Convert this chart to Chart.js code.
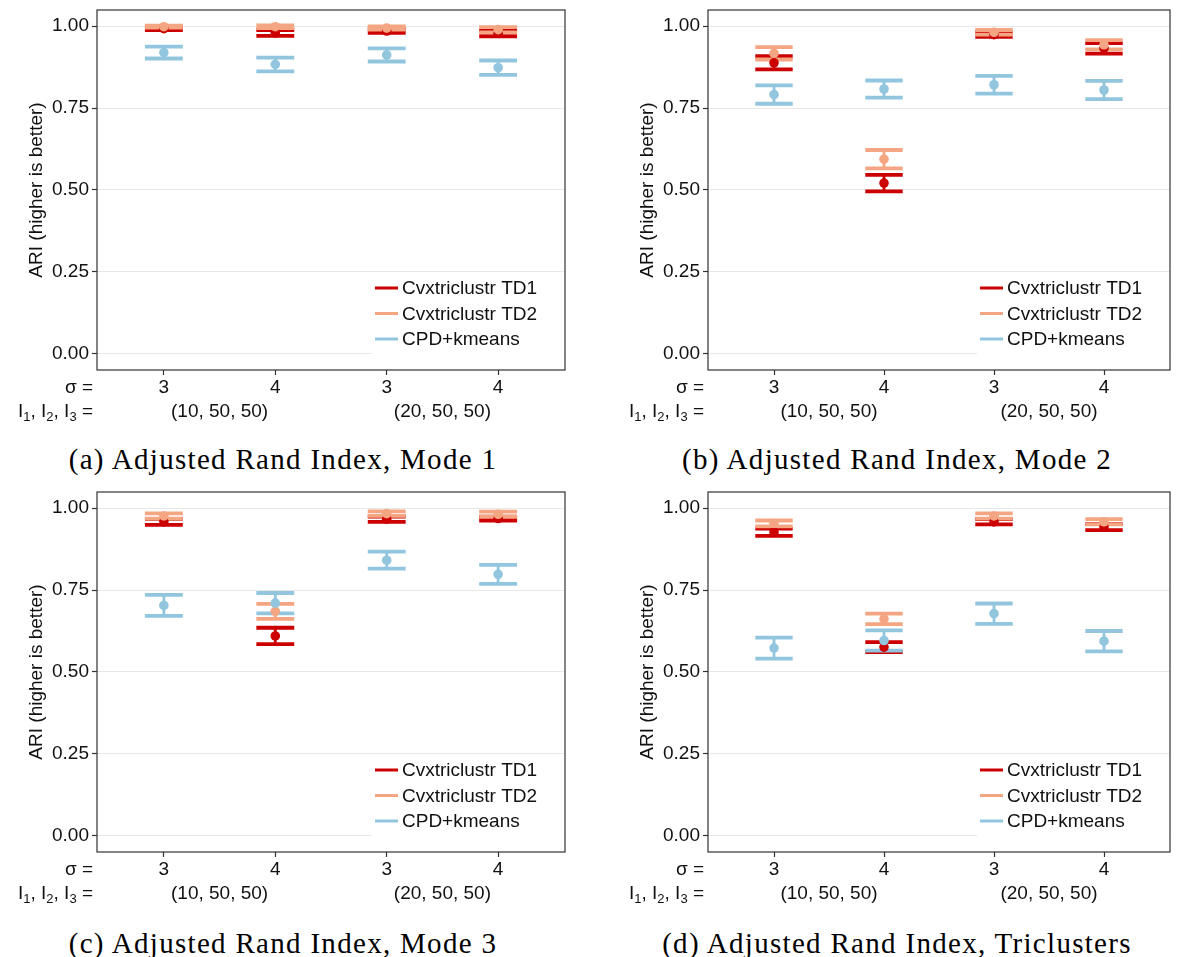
<!DOCTYPE html>
<html>
<head>
<meta charset="utf-8">
<script src="https://cdn.jsdelivr.net/npm/chart.js@4.4.1/dist/chart.umd.min.js"></script>
<style>
  body { margin: 0; background: #fff; width: 1177px; height: 957px; position: relative; overflow: hidden; }
  canvas { position: absolute; }
  .cap { position: absolute; width: 600px; margin-left: -300px; text-align: center;
         font-family: "Liberation Serif", "DejaVu Serif", serif; font-size: 29px; letter-spacing: 1.3px;
         color: #000; line-height: 32px; }
</style>
</head>
<body>
<canvas id="c1" width="575" height="440" style="left:0px;top:0px"></canvas>
<canvas id="c2" width="566" height="440" style="left:611px;top:0px"></canvas>
<canvas id="c3" width="575" height="440" style="left:0px;top:482px"></canvas>
<canvas id="c4" width="566" height="440" style="left:611px;top:482px"></canvas>
<div class="cap" style="left:283px;top:443px">(a) Adjusted Rand Index, Mode 1</div>
<div class="cap" style="left:897px;top:443px">(b) Adjusted Rand Index, Mode 2</div>
<div class="cap" style="left:283px;top:927px">(c) Adjusted Rand Index, Mode 3</div>
<div class="cap" style="left:897px;top:927px">(d) Adjusted Rand Index, Triclusters</div>
<script>
// labels
const sigmaLabels = ['3', '4', '3', '4'];
const sizeLabels = ['(10, 50, 50)', '(20, 50, 50)'];
const seriesNames = ['Cvxtriclustr TD1', 'Cvxtriclustr TD2', 'CPD+kmeans'];
const seriesColors = ['#CC0000', '#F4A582', '#92C5DE'];
const yTicks = [0, 0.25, 0.5, 0.75, 1];

// (a) Mode 1 - mean ARI and half width of the error bar
const mode1TD1 = [0.992, 0.979, 0.985, 0.978];
const mode1TD1Err = [0.004, 0.009, 0.006, 0.009];
const mode1TD2 = [0.998, 0.998, 0.994, 0.989];
const mode1TD2Err = [0.003, 0.004, 0.005, 0.008];
const mode1CPD = [0.919, 0.883, 0.912, 0.873];
const mode1CPDErr = [0.018, 0.021, 0.020, 0.022];

// (b) Mode 2
const mode2TD1 = [0.888, 0.521, 0.974, 0.932];
const mode2TD1Err = [0.020, 0.025, 0.007, 0.016];
const mode2TD2 = [0.917, 0.594, 0.981, 0.943];
const mode2TD2Err = [0.019, 0.028, 0.007, 0.014];
const mode2CPD = [0.791, 0.808, 0.821, 0.805];
const mode2CPDErr = [0.028, 0.026, 0.027, 0.028];

// (c) Mode 3
const mode3TD1 = [0.958, 0.610, 0.966, 0.968];
const mode3TD1Err = [0.009, 0.025, 0.008, 0.006];
const mode3TD2 = [0.976, 0.685, 0.983, 0.981];
const mode3TD2Err = [0.008, 0.023, 0.007, 0.008];
const mode3CPD = [0.703, 0.710, 0.841, 0.798];
const mode3CPDErr = [0.032, 0.031, 0.026, 0.029];

// (d) Triclusters
const triTD1 = [0.926, 0.576, 0.958, 0.942];
const triTD1Err = [0.011, 0.015, 0.008, 0.009];
const triTD2 = [0.953, 0.662, 0.976, 0.958];
const triTD2Err = [0.009, 0.016, 0.008, 0.008];
const triCPD = [0.573, 0.596, 0.678, 0.594];
const triCPDErr = [0.032, 0.031, 0.031, 0.031];

Chart.defaults.font.family = '"Liberation Sans", Arial, sans-serif';
Chart.defaults.font.size = 19;
Chart.defaults.color = '#111';

const FONT = '19px "Liberation Sans", Arial, sans-serif';
const SUBFONT = '13px "Liberation Sans", Arial, sans-serif';
const capHalf = 0.17; // half cap width, in category units

// error bars go under the points, drawn TD1, TD2, CPD
const errorBarPlugin = {
  id: 'errorBars',
  beforeDatasetsDraw(chart) {
    const ctx = chart.ctx;
    const xs = chart.scales.x, ys = chart.scales.y;
    chart.data.datasets.forEach(ds => {
      ds.data.forEach((p, i) => {
        const e = ds.errs[i];
        const x = xs.getPixelForValue(p.x);
        const xl = xs.getPixelForValue(p.x - capHalf);
        const xr = xs.getPixelForValue(p.x + capHalf);
        const ylo = ys.getPixelForValue(p.y - e);
        const yhi = ys.getPixelForValue(p.y + e);
        ctx.save();
        ctx.strokeStyle = ds.backgroundColor;
        ctx.lineWidth = 2.8;
        ctx.beginPath();
        ctx.moveTo(x, ylo);
        ctx.lineTo(x, yhi);
        ctx.stroke();
        ctx.lineWidth = 3.8;
        ctx.beginPath();
        ctx.moveTo(xl, ylo); ctx.lineTo(xr, ylo);
        ctx.moveTo(xl, yhi); ctx.lineTo(xr, yhi);
        ctx.stroke();
        ctx.restore();
      });
    });
  }
};

// draws "I1, I2, I3 =" with subscripts, right aligned at xr
function drawSubLabel(ctx, parts, xr, y) {
  let w = 0;
  parts.forEach(p => { ctx.font = p[1] ? SUBFONT : FONT; w += ctx.measureText(p[0]).width; });
  let x = xr - w;
  ctx.textAlign = 'left';
  parts.forEach(p => {
    ctx.font = p[1] ? SUBFONT : FONT;
    ctx.fillText(p[0], x, p[1] ? y + 5 : y);
    x += ctx.measureText(p[0]).width;
  });
}

const decorPlugin = {
  id: 'decor',
  afterDraw(chart) {
    const ctx = chart.ctx;
    const a = chart.chartArea;
    const xs = chart.scales.x;
    ctx.save();
    // panel border
    ctx.strokeStyle = '#333';
    ctx.lineWidth = 1.2;
    ctx.strokeRect(a.left, a.top, a.right - a.left, a.bottom - a.top);

    // legend in the bottom right corner
    const lx = a.right - 193, lyb = a.bottom - 14;
    ctx.fillStyle = '#fff';
    ctx.fillRect(lx, lyb - 82, a.right - lx - 1, 82);
    ctx.font = FONT;
    ctx.textBaseline = 'middle';
    ctx.textAlign = 'left';
    seriesNames.forEach((name, k) => {
      const y = lyb - 68 + k * 25.5;
      ctx.strokeStyle = seriesColors[k];
      ctx.lineWidth = 3;
      ctx.beginPath();
      ctx.moveTo(lx + 3, y);
      ctx.lineTo(lx + 26, y);
      ctx.stroke();
      ctx.fillStyle = '#111';
      ctx.fillText(name, lx + 30, y + 1);
    });

    // second row of x labels
    ctx.fillStyle = '#111';
    ctx.textAlign = 'center';
    sizeLabels.forEach((t, k) => ctx.fillText(t, xs.getPixelForValue(2 * k + 0.5), a.bottom + 42));

    // row names on the left
    ctx.textAlign = 'right';
    ctx.fillText('σ =', a.left - 4, a.bottom + 18);
    drawSubLabel(ctx, [['I', false], ['1', true], [', I', false], ['2', true], [', I', false], ['3', true], [' =', false]],
      a.left - 4, a.bottom + 42);
    ctx.restore();
  }
};

function makePanel(id, td1, td1Err, td2, td2Err, cpd, cpdErr, rightPad) {
  const series = [[td1, td1Err], [td2, td2Err], [cpd, cpdErr]];
  new Chart(document.getElementById(id), {
    type: 'scatter',
    data: {
      datasets: series.map((s, k) => ({
        label: seriesNames[k],
        data: s[0].map((v, i) => ({ x: i, y: v })),
        errs: s[1],
        backgroundColor: seriesColors[k],
        borderWidth: 0,
        pointRadius: 4.8,
        order: 3 - k
      }))
    },
    options: {
      responsive: false,
      animation: false,
      events: [],
      layout: { padding: { left: 0, right: rightPad, top: 10, bottom: 0 } },
      plugins: { legend: { display: false }, tooltip: { enabled: false } },
      scales: {
        x: {
          type: 'linear',
          min: -0.6,
          max: 3.6,
          afterBuildTicks: s => { s.ticks = sigmaLabels.map((_, i) => ({ value: i })); },
          afterFit: s => { s.height = 70; s.paddingLeft = 0; s.paddingRight = 0; },
          ticks: { callback: v => sigmaLabels[v], autoSkip: false, maxRotation: 0, padding: 1, color: '#111' },
          grid: { drawOnChartArea: false, drawTicks: true, tickLength: 5, tickColor: '#333', tickWidth: 1.2 },
          border: { display: false }
        },
        y: {
          min: -0.049,
          max: 1.049,
          afterBuildTicks: s => { s.ticks = yTicks.map(v => ({ value: v })); },
          afterFit: s => { s.width = 97; s.paddingTop = 0; s.paddingBottom = 0; },
          ticks: { callback: v => v.toFixed(2), padding: 3, color: '#111' },
          grid: { color: '#E8E8E8', lineWidth: 1, drawTicks: true, tickLength: 5, tickColor: '#333', tickWidth: 1.2 },
          border: { display: false },
          title: { display: true, text: 'ARI (higher is better)', color: '#111', padding: { top: 25 } }
        }
      }
    },
    plugins: [errorBarPlugin, decorPlugin]
  });
}

makePanel('c1', mode1TD1, mode1TD1Err, mode1TD2, mode1TD2Err, mode1CPD, mode1CPDErr, 10);
makePanel('c2', mode2TD1, mode2TD1Err, mode2TD2, mode2TD2Err, mode2CPD, mode2CPDErr, 7);
makePanel('c3', mode3TD1, mode3TD1Err, mode3TD2, mode3TD2Err, mode3CPD, mode3CPDErr, 10);
makePanel('c4', triTD1, triTD1Err, triTD2, triTD2Err, triCPD, triCPDErr, 7);
</script>
</body>
</html>
